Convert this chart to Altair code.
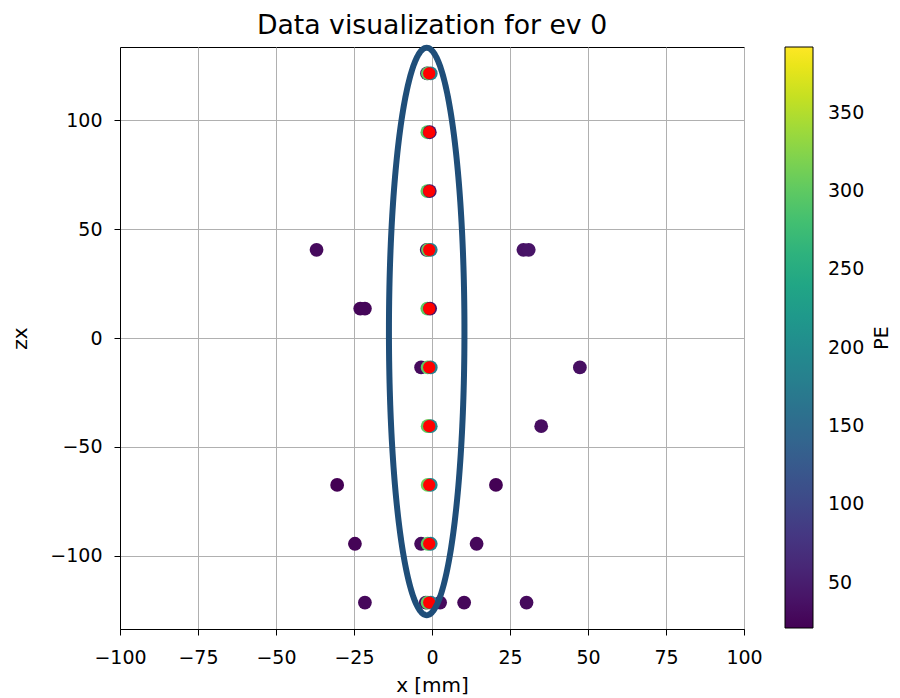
import altair as alt
import numpy as np
import pandas as pd

# ---- data ----
# outlying hits (dark purple)
out_x = [-37.0, 29.3, 31.0, -23.0, -21.5, 47.4, 35.0, -30.4, 20.5, -24.7, 14.3, -21.5, 2.6, 10.3, 30.3]
out_z = [40.5, 40.5, 40.5, 13.5, 13.5, -13.5, -40.5, -67.5, -67.5, -94.5, -94.5, -121.5, -121.5, -121.5, -121.5]
out_pe = [30, 38, 40, 25, 26, 34, 32, 21, 22, 24, 28, 28, 30, 27, 30]

# central column hits (overlapping)
cen_x = [-1.6, -1.3, -0.4,
         -1.5, -0.7,
         -1.5, -0.7,
         -1.7, -1.3, -0.4,
         -1.5, -0.6,
         -3.5, -1.4, -0.4,
         -1.0, -1.4, -0.4,
         -1.4, -0.4,
         -3.5, -1.4, -0.4,
         -2.0, -1.4, -0.4]
cen_z = [121.5, 121.5, 121.5,
         94.5, 94.5,
         67.5, 67.5,
         40.5, 40.5, 40.5,
         13.5, 13.5,
         -13.5, -13.5, -13.5,
         -40.5, -40.5, -40.5,
         -67.5, -67.5,
         -94.5, -94.5, -94.5,
         -121.5, -121.5, -121.5]
cen_pe = [40, 300, 180,
          300, 40,
          300, 45,
          40, 300, 180,
          300, 40,
          30, 300, 180,
          392, 300, 190,
          310, 190,
          30, 300, 180,
          35, 300, 170]

# red reference markers
red_x = [-0.9, -0.9, -0.9, -0.9, -0.9, -0.9, -0.9, -0.9, -0.9, -0.9]
red_z = [121.5, 94.5, 67.5, 40.5, 13.5, -13.5, -40.5, -67.5, -94.5, -121.5]

# highlight ellipse (annotation)
ell_cx, ell_cz, ell_a, ell_b = -1.7, 3.0, 12.1, 130.3

x_ticks = [-100, -75, -50, -25, 0, 25, 50, 75, 100]
y_ticks = [-100, -50, 0, 50, 100]
pe_ticks = [50, 100, 150, 200, 250, 300, 350]

FONT = "DejaVu Sans"

hits = pd.DataFrame({
    "x": out_x + cen_x,
    "z": out_z + cen_z,
    "PE": out_pe + cen_pe,
})
red = pd.DataFrame({"x": red_x, "z": red_z})
t = np.linspace(0, 2 * np.pi, 241)
ell = pd.DataFrame({
    "x": ell_cx + ell_a * np.cos(t),
    "z": ell_cz + ell_b * np.sin(t),
    "i": np.arange(len(t)),
})

xscale = alt.Scale(domain=[-100, 100], nice=False, zero=False)
yscale = alt.Scale(domain=[-133.65, 133.65], nice=False, zero=False)

xaxis = alt.Axis(values=x_ticks, title="x [mm]", grid=True, labelFlush=False,
                 labelPadding=13, titlePadding=8)
yaxis = alt.Axis(values=y_ticks, title="zx", grid=True, labelFlush=False,
                 labelPadding=12, titlePadding=19)

points = alt.Chart(hits).mark_circle(size=190, opacity=1).encode(
    x=alt.X("x:Q", scale=xscale, axis=xaxis),
    y=alt.Y("z:Q", scale=yscale, axis=yaxis),
    color=alt.Color(
        "PE:Q",
        scale=alt.Scale(scheme="viridis", domain=[21, 392], nice=False, zero=False),
        legend=alt.Legend(
            title=None,
            orient="none",
            legendX=665,
            legendY=0,
            direction="vertical",
            gradientLength=581,
            gradientThickness=28,
            gradientStrokeColor="black",
            gradientStrokeWidth=1,
            values=pe_ticks,
            labelFontSize=19,
            labelFont=FONT,
            labelColor="black",
            labelOffset=15,
            labelOverlap=False,
            padding=0,
            offset=0,
        ),
    ),
)

reds = alt.Chart(red).mark_circle(size=150, opacity=1, color="#ff0000").encode(
    x=alt.X("x:Q", scale=xscale),
    y=alt.Y("z:Q", scale=yscale),
)

ellipse = alt.Chart(ell).mark_line(color="#1f4e79", strokeWidth=6, clip=False).encode(
    x=alt.X("x:Q", scale=xscale),
    y=alt.Y("z:Q", scale=yscale),
    order="i:Q",
)

pe_title = alt.Chart(pd.DataFrame({"t": ["PE"]})).mark_text(
    angle=270, align="center", baseline="middle", font=FONT, fontSize=19, color="black"
).encode(
    text="t:N",
    x=alt.value(762),
    y=alt.value(291),
)

chart = alt.layer(points, reds, ellipse, pe_title).properties(
    width=624,
    height=582,
    title=alt.TitleParams(
        "Data visualization for ev 0",
        fontSize=26.7,
        font=FONT,
        fontWeight="normal",
        color="black",
        anchor="middle",
        offset=-4,
    ),
    autosize=alt.AutoSizeParams(type="none"),
    padding={"left": 112, "top": 39, "right": 148, "bottom": 68},
).configure_view(
    stroke="black", strokeWidth=1
).configure_axis(
    labelFont=FONT,
    labelFontSize=19,
    labelColor="black",
    titleFont=FONT,
    titleFontSize=20,
    titleFontWeight="normal",
    titleColor="black",
    domainColor="black",
    domainWidth=1,
    tickColor="black",
    tickSize=6,
    tickWidth=1,
    gridColor="#b0b0b0",
    gridOpacity=1,
    gridWidth=1,
)

chart.save("out.html", embed_options={"renderer": "svg", "actions": False})
